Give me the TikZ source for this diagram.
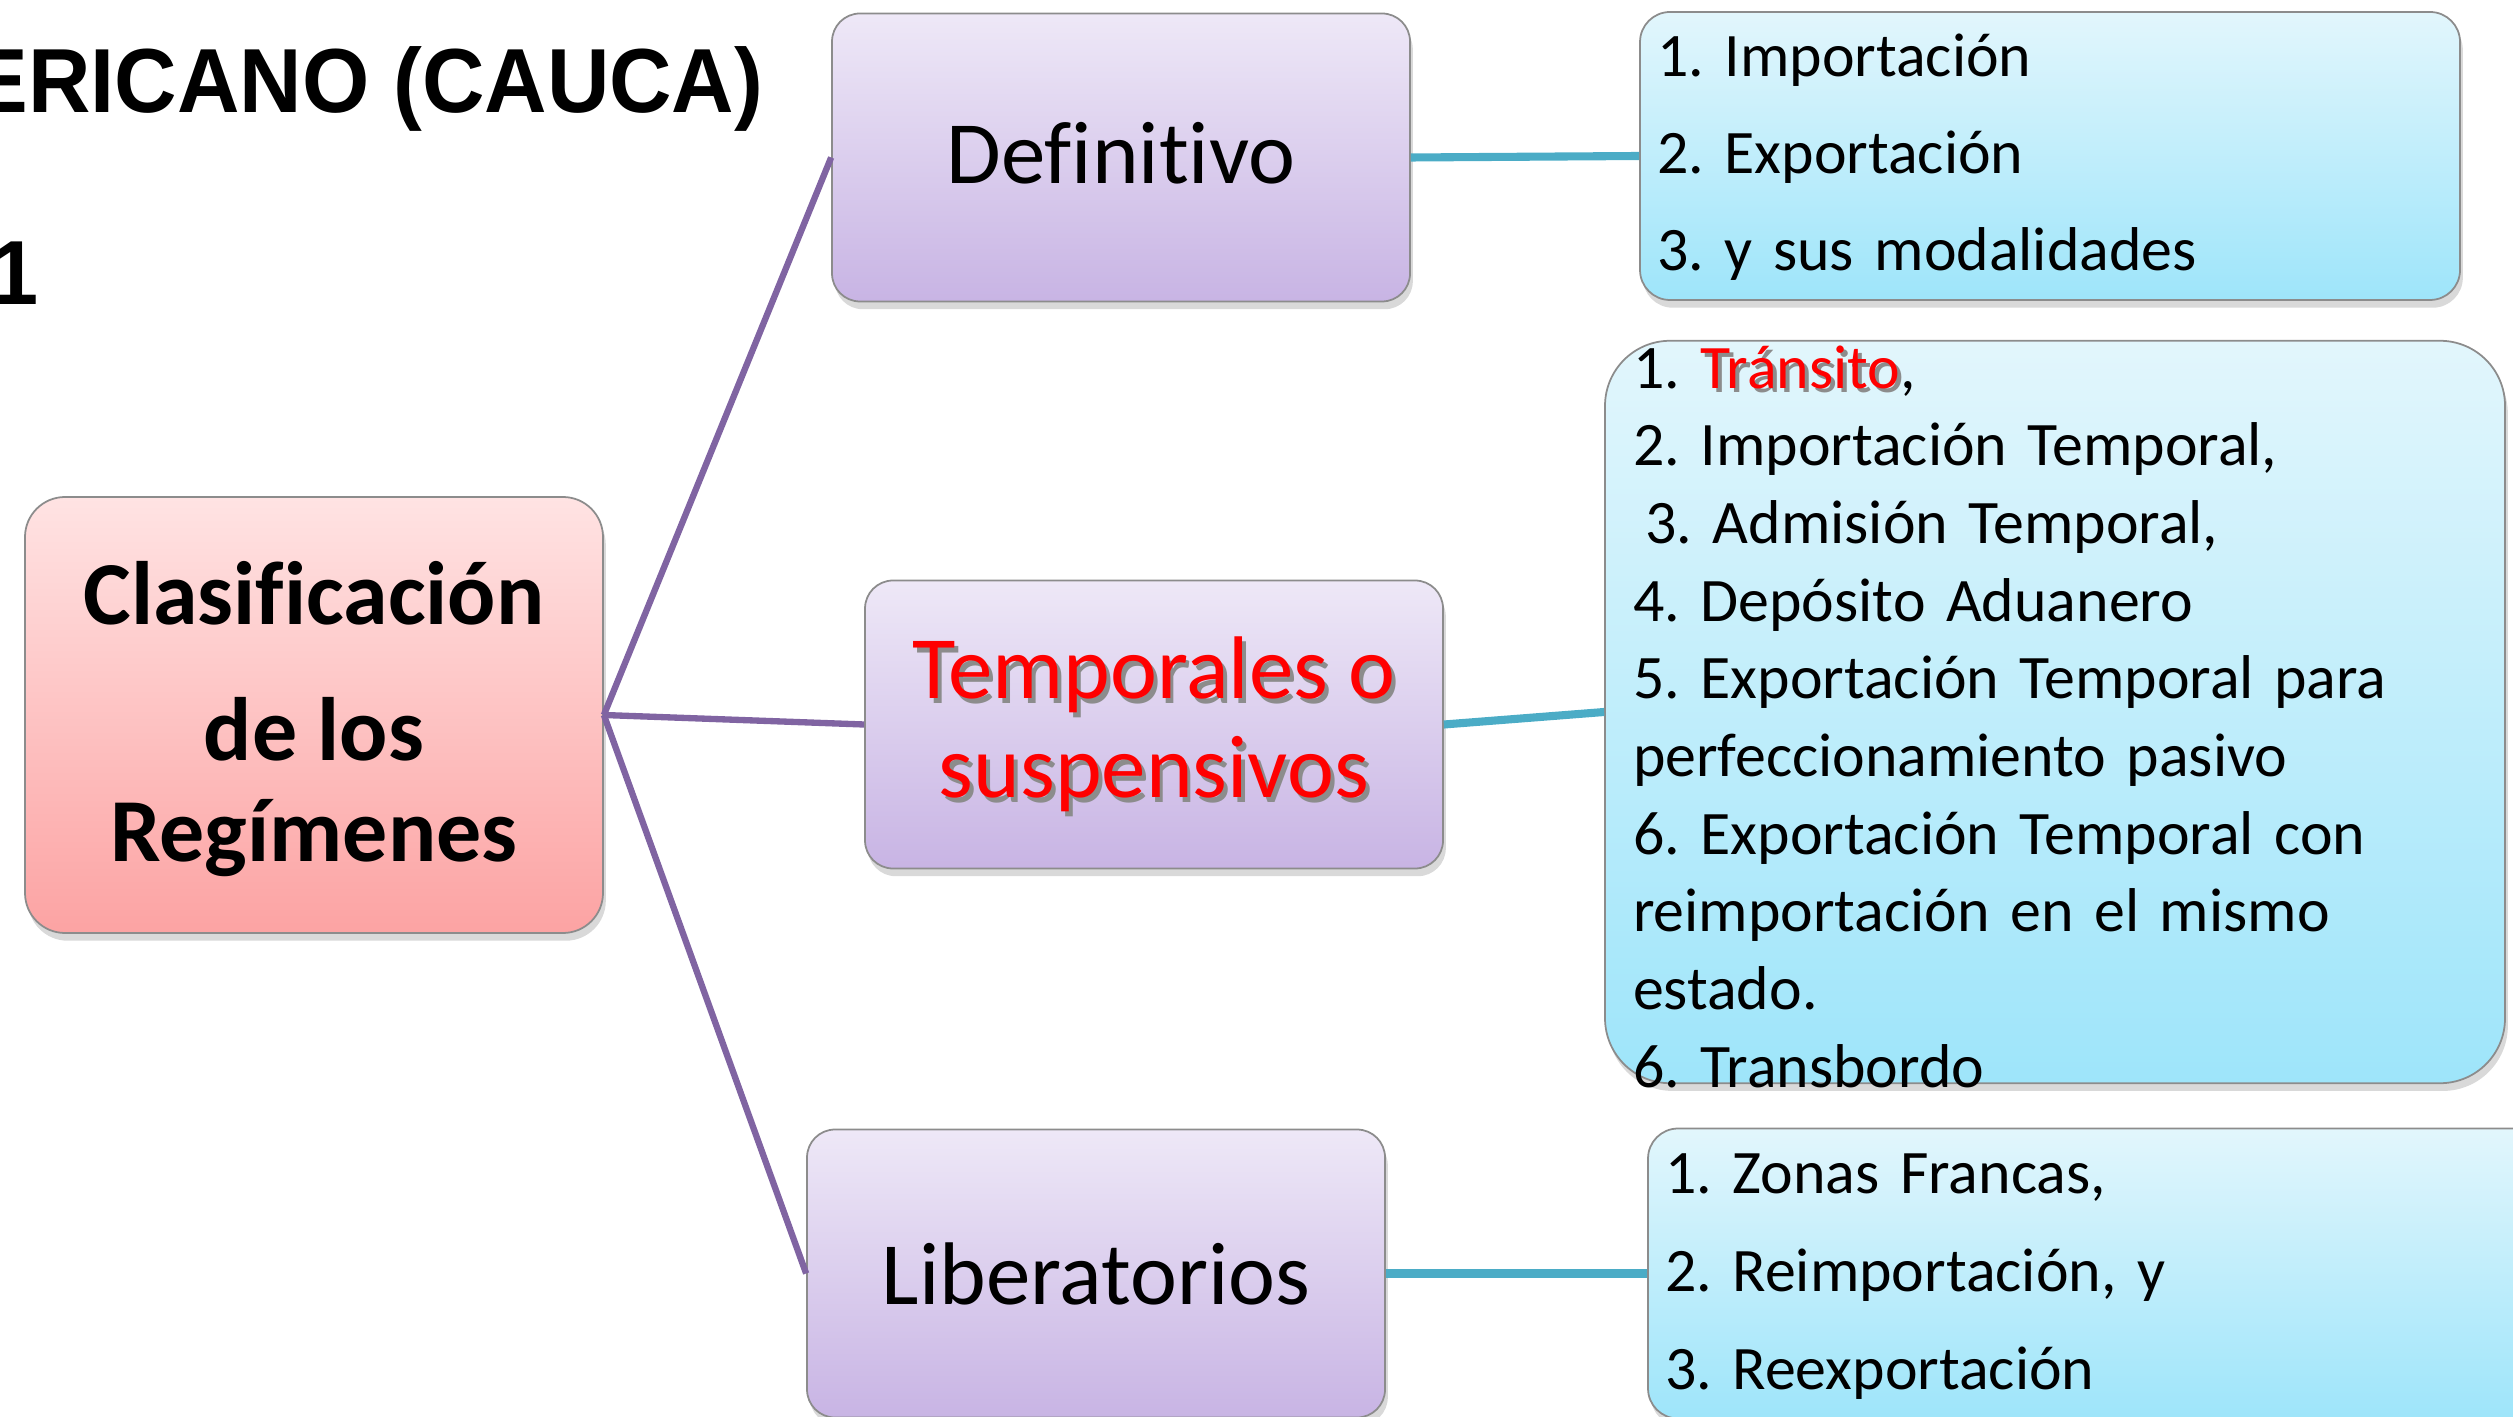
\documentclass[tikz,border=0pt]{standalone}
\usepackage{fontspec}
\setmainfont[Ligatures=CommonOff]{Carlito}
\newfontfamily\titlefont[FakeStretch=0.95]{Liberation Sans}
\usetikzlibrary{positioning,shadows}
\frenchspacing

\definecolor{lilaTop}{HTML}{EEE8F7}
\definecolor{lilaBot}{HTML}{C8B4E4}
\definecolor{rosaTop}{HTML}{FFE3E3}
\definecolor{rosaBot}{HTML}{FCA3A3}
\definecolor{celesteTop}{HTML}{E2F6FC}
\definecolor{celesteBot}{HTML}{9EE5FA}
\definecolor{ramaLila}{HTML}{8064A2}
\definecolor{ramaAzul}{HTML}{4BACC6}

\newcommand\sombreado[1]{\leavevmode\rlap{\raisebox{-1.3pt}[0pt][0pt]{\hspace{1.1pt}\textcolor{black!45}{#1}}}#1}
% primera y ultima linea con altura fija
\newcommand\alto[1]{\rule{0pt}{#1}}
\newcommand\hondo[1]{\rule[-#1]{0pt}{0pt}}

\tikzset{
  caja/.style={draw=black!45, line width=0.5pt, align=center,
    drop shadow={shadow xshift=0.8pt, shadow yshift=-2.2pt, opacity=0.3}},
  regimen/.style={caja, rounded corners=2.8mm, top color=lilaTop, bottom color=lilaBot,
    minimum width=57.8mm, minimum height=28.8mm, inner sep=0pt,
    font=\fontsize{25.3pt}{28.3pt}\selectfont},
  lista/.style={caja, rounded corners=3mm, top color=celesteTop, bottom color=celesteBot,
    align=left, inner ysep=0pt, font=\fontsize{17.6pt}{27.6pt}\selectfont},
  titulo/.style={anchor=base east, inner sep=0pt, font=\titlefont\bfseries\fontsize{25.9pt}{28pt}\selectfont},
  ramaL/.style={ramaLila, line width=1.8pt},
  ramaA/.style={ramaAzul, line width=2.3pt}
}

\begin{document}
\begin{tikzpicture}[x=0.1mm,y=-0.1mm]
\useasboundingbox (0,0) rectangle (2513,1417);

% titulo cortado por la izquierda
\node[titulo] (titulo) at (764,113) {ERICANO (CAUCA)};
\node[titulo] (titnum) at (39,305) {1};

\node[caja, rounded corners=4mm, top color=rosaTop, bottom color=rosaBot,
  minimum width=57.8mm, minimum height=43.6mm, inner sep=0pt,
  font=\bfseries\fontsize{25.6pt}{28.7pt}\selectfont] (clasif) at (314,715)
  {\alto{22pt}Clasificación\\[10pt]de los\\Regímenes\hondo{6pt}};

\node[regimen, text depth=2.8pt] (defin) at (1121,157.5) {Definitivo};
\node[regimen, text=red] (tempo) at (1154,724.5) {\sombreado{Temporales o}\\\sombreado{suspensivos}};
\node[regimen] (liber) at (1096,1273.5) {Liberatorios};

\node[lista, text width=78.6mm, inner xsep=1.7mm, minimum height=28.8mm] (listDef) at (2050,156)
  {\alto{16.2pt}1. Importación\\2. Exportación\\3. y sus modalidades\hondo{6pt}};
\node[lista, rounded corners=6.5mm, text width=84.4mm, inner xsep=2.8mm, inner ysep=-1.1mm,
  font=\fontsize{17.6pt}{22.1pt}\selectfont] (listTemp) at (2055,712)
  {\alto{16.6pt}1. \textcolor{red}{\sombreado{Tránsito}},\\
   2. Importación Temporal,\\
   \hspace*{3.5pt}3. Admisión Temporal,\\
   4. Depósito Aduanero\\
   5. Exportación Temporal para\\
   perfeccionamiento pasivo\\
   6. Exportación Temporal con\\
   reimportación en el mismo\\
   estado.\\
   6. Transbordo\hondo{2pt}};
\node[lista, text width=87.8mm, inner xsep=1.7mm, minimum height=29mm,
  font=\fontsize{17.6pt}{27.9pt}\selectfont] (listLib) at (2104,1273.5)
  {\alto{16pt}1. Zonas Francas,\\2. Reimportación, y\\3. Reexportación\hondo{6pt}};

\draw[ramaL] (clasif.east) -- (defin.west);
\draw[ramaL] (clasif.east) -- (tempo.west);
\draw[ramaL] (clasif.east) -- (liber.west);

\draw[ramaA] (defin.east) -- (listDef.west);
\draw[ramaA] (tempo.east) -- (listTemp.west);
\draw[ramaA] (liber.east) -- (listLib.west);

\end{tikzpicture}
\end{document}
